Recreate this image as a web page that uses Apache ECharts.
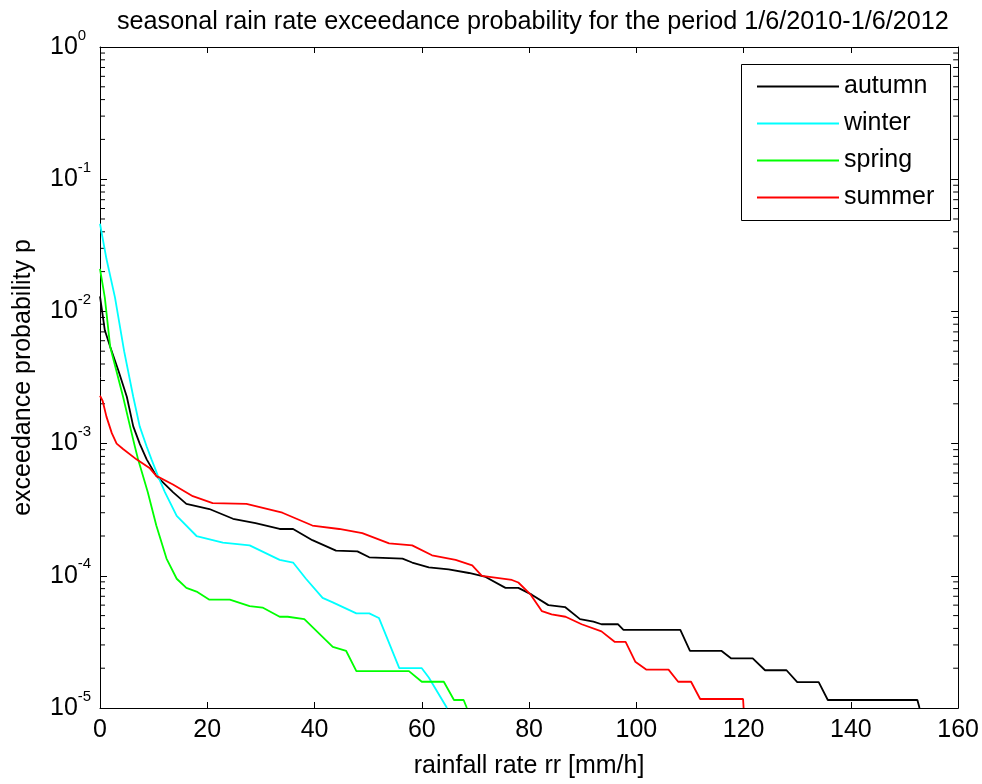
<!DOCTYPE html>
<html>
<head>
<meta charset="utf-8">
<script src="https://cdn.jsdelivr.net/npm/echarts@6/dist/echarts.min.js"></script>
<style>
html,body{margin:0;padding:0;background:#fff;}
#chart{width:982px;height:784px;}
</style>
</head>
<body>
<div id="chart"></div>
<script>
const seriesNames = ['autumn', 'winter', 'spring', 'summer'];
const seriesColors = ['#000000', '#00ffff', '#00ff00', '#ff0000'];

const xAutumn = [0, 0.9, 1.9, 3.5, 5.0, 6.2, 7.4, 8.7, 10.5, 13.6, 16.1, 20.4, 24.8, 29, 33.5, 36, 39.6, 44, 48, 50.2, 56.4, 58.2, 61.3, 65, 68.8, 71.9, 75.6, 78, 80.5, 83.6, 86.7, 89.5, 92, 93.5, 96.6, 97.6, 108.2, 110, 115.9, 117.7, 121.7, 124, 128, 130, 134, 135.7, 152.4, 152.8];
const pAutumn = [1.3e-2, 7.2e-3, 5.4e-3, 3.5e-3, 2.26e-3, 1.35e-3, 1.0e-3, 7.6e-4, 5.7e-4, 4.3e-4, 3.5e-4, 3.2e-4, 2.7e-4, 2.5e-4, 2.26e-4, 2.26e-4, 1.86e-4, 1.55e-4, 1.53e-4, 1.38e-4, 1.35e-4, 1.26e-4, 1.16e-4, 1.12e-4, 1.05e-4, 9.8e-5, 8.1e-5, 8.1e-5, 7.2e-5, 6.0e-5, 5.8e-5, 4.7e-5, 4.5e-5, 4.3e-5, 4.3e-5, 3.9e-5, 3.9e-5, 2.7e-5, 2.7e-5, 2.37e-5, 2.37e-5, 1.93e-5, 1.93e-5, 1.57e-5, 1.57e-5, 1.15e-5, 1.15e-5, 1.0e-5];

const xWinter = [0, 1.2, 2.8, 4.5, 6.2, 7.4, 8.7, 9.6, 10.8, 12.1, 14.3, 18, 22.9, 27.9, 33.5, 36, 38.4, 41.5, 43.4, 47.8, 50.2, 52, 55.8, 60, 61.3, 64.7];
const pWinter = [4.6e-2, 2.5e-2, 1.27e-2, 5.0e-3, 2.26e-3, 1.35e-3, 9.5e-4, 7.6e-4, 5.7e-4, 4.3e-4, 2.84e-4, 2.0e-4, 1.78e-4, 1.7e-4, 1.32e-4, 1.26e-4, 9.5e-5, 6.8e-5, 6.3e-5, 5.2e-5, 5.2e-5, 4.8e-5, 2.0e-5, 2.0e-5, 1.7e-5, 1.0e-5];

const xSpring = [0, 0.9, 1.9, 4.3, 5.6, 6.5, 7.1, 8.9, 10.5, 12.4, 14.3, 16.1, 18, 20.4, 24.2, 27.9, 30.3, 33.5, 35, 38.1, 43.4, 45.9, 47.8, 57.6, 60, 64.1, 66, 67.8, 68.4];
const pSpring = [2.1e-2, 1.27e-2, 5.4e-3, 2.26e-3, 1.35e-3, 9.5e-4, 7.6e-4, 4.3e-4, 2.4e-4, 1.35e-4, 9.5e-5, 8.1e-5, 7.6e-5, 6.6e-5, 6.6e-5, 5.9e-5, 5.75e-5, 4.9e-5, 4.9e-5, 4.7e-5, 2.9e-5, 2.7e-5, 1.9e-5, 1.9e-5, 1.58e-5, 1.58e-5, 1.15e-5, 1.15e-5, 1.0e-5];

const xSummer = [0, 0.5, 1.2, 2.2, 3.1, 4.3, 6.8, 9.3, 10.5, 13.6, 17.3, 21, 27.3, 34, 39.6, 44.6, 48.9, 53.9, 58.2, 61.9, 66.3, 69.4, 71.2, 76.8, 78, 80.3, 82.4, 84.2, 86.8, 89.8, 93.5, 96, 98, 99.8, 101.9, 106, 107.8, 110.2, 111.9, 119.9, 120];
const pSummer = [2.3e-3, 2.1e-3, 1.6e-3, 1.2e-3, 1.0e-3, 9.1e-4, 7.6e-4, 6.5e-4, 5.7e-4, 4.9e-4, 4.0e-4, 3.55e-4, 3.5e-4, 3.0e-4, 2.4e-4, 2.26e-4, 2.1e-4, 1.76e-4, 1.7e-4, 1.43e-4, 1.32e-4, 1.2e-4, 1.0e-4, 9.3e-5, 8.9e-5, 7.2e-5, 5.4e-5, 5.1e-5, 4.9e-5, 4.3e-5, 3.8e-5, 3.16e-5, 3.16e-5, 2.24e-5, 1.95e-5, 1.95e-5, 1.58e-5, 1.58e-5, 1.17e-5, 1.17e-5, 1.0e-5];

const xTicks = [0, 20, 40, 60, 80, 100, 120, 140, 160];
const yTickExponents = [-5, -4, -3, -2, -1, 0];
const yMinorTicks = [
  2e-5, 3e-5, 4e-5, 5e-5, 6e-5, 7e-5, 8e-5, 9e-5,
  2e-4, 3e-4, 4e-4, 5e-4, 6e-4, 7e-4, 8e-4, 9e-4,
  2e-3, 3e-3, 4e-3, 5e-3, 6e-3, 7e-3, 8e-3, 9e-3,
  2e-2, 3e-2, 4e-2, 5e-2, 6e-2, 7e-2, 8e-2, 9e-2,
  2e-1, 3e-1, 4e-1, 5e-1, 6e-1, 7e-1, 8e-1, 9e-1
];

const FONT = '"Liberation Sans", Arial, sans-serif';
const FS = 25;

function zip(xs, ys) { return xs.map((x, i) => [x, ys[i]]); }
const seriesData = [zip(xAutumn, pAutumn), zip(xWinter, pWinter), zip(xSpring, pSpring), zip(xSummer, pSummer)];

const chart = echarts.init(document.getElementById('chart'), null, {renderer: 'canvas'});

const axisLineStyle = {color: '#000', width: 1};

const option = {
  backgroundColor: '#fff',
  animation: false,
  title: {
    text: 'seasonal rain rate exceedance probability for the period 1/6/2010-1/6/2012',
    left: 112, top: 5,
    textStyle: {fontFamily: FONT, fontSize: 25.2, fontWeight: 'normal', color: '#000'}
  },
  grid: {left: 100, top: 47, right: 21, bottom: 70, containLabel: false},
  legend: {
    data: seriesNames,
    orient: 'vertical',
    left: 752, top: 69,
    itemWidth: 82, itemHeight: 2,
    itemGap: 12,
    icon: 'rect',
    textStyle: {fontFamily: FONT, fontSize: FS, color: '#000', lineHeight: 25}
  },
  graphic: [{
    type: 'rect', left: 739, top: 62, z: 100,
    shape: {width: 209, height: 156},
    style: {fill: 'none', stroke: '#000', lineWidth: 1}
  }],
  xAxis: [{
    type: 'value', min: xTicks[0], max: xTicks[xTicks.length - 1], interval: 20,
    name: 'rainfall rate rr [mm/h]', nameLocation: 'middle', nameGap: 46,
    nameTextStyle: {fontFamily: FONT, fontSize: FS, color: '#000'},
    axisLine: {show: true, lineStyle: axisLineStyle},
    axisTick: {show: true, inside: true, length: 6, lineStyle: axisLineStyle},
    axisLabel: {fontFamily: FONT, fontSize: FS, color: '#000', margin: 10},
    splitLine: {show: false}
  }, {
    type: 'value', position: 'top', min: xTicks[0], max: xTicks[xTicks.length - 1], interval: 20,
    axisLine: {show: true, onZero: false, lineStyle: axisLineStyle},
    axisTick: {show: true, inside: true, length: 6, lineStyle: axisLineStyle},
    axisLabel: {show: false},
    splitLine: {show: false}
  }],
  yAxis: [{
    type: 'log', logBase: 10, min: Math.pow(10, yTickExponents[0]), max: Math.pow(10, yTickExponents[yTickExponents.length - 1]),
    splitNumber: 5,
    name: 'exceedance probability p', nameLocation: 'middle', nameGap: 64, nameRotate: 90,
    nameTextStyle: {fontFamily: FONT, fontSize: FS, color: '#000'},
    axisLine: {show: true, onZero: false, lineStyle: axisLineStyle},
    axisTick: {show: true, inside: true, length: 7, lineStyle: axisLineStyle},
    axisLabel: {
      margin: 50, align: 'left',
      formatter: function (v) {
        const e = Math.round(Math.log10(v));
        return '{b|10}{s|' + e + '}';
      },
      rich: {
        b: {fontFamily: FONT, fontSize: FS, color: '#000', lineHeight: 44, verticalAlign: 'middle'},
        s: {fontFamily: FONT, fontSize: 15, color: '#000', lineHeight: 15, verticalAlign: 'top', padding: [3, 0, 0, 0]}
      }
    },
    splitLine: {show: false}
  }, {
    type: 'log', logBase: 10, position: 'right', min: Math.pow(10, yTickExponents[0]), max: Math.pow(10, yTickExponents[yTickExponents.length - 1]),
    splitNumber: 5,
    axisLine: {show: true, onZero: false, lineStyle: axisLineStyle},
    axisTick: {show: true, inside: true, length: 7, lineStyle: axisLineStyle},
    axisLabel: {show: false},
    splitLine: {show: false}
  }],
  series: seriesNames.map((n, i) => ({
    name: n, type: 'line', data: seriesData[i],
    xAxisIndex: 0, yAxisIndex: 0,
    showSymbol: false, symbol: 'none',
    lineStyle: {color: seriesColors[i], width: 1.8},
    itemStyle: {color: seriesColors[i]},
    clip: true
  })).concat([{
    type: 'custom', name: 'minorTicks', silent: true, xAxisIndex: 0, yAxisIndex: 0,
    data: yMinorTicks.map(v => [0, v]),
    clip: false,
    renderItem: function (params, api) {
      const v = api.value(1);
      const pL = api.coord([xTicks[0], v]);
      const pR = api.coord([xTicks[xTicks.length - 1], v]);
      const st = {stroke: '#000', lineWidth: 1};
      return {
        type: 'group',
        children: [
          {type: 'line', shape: {x1: pL[0], y1: pL[1], x2: pL[0] + 5, y2: pL[1]}, style: st},
          {type: 'line', shape: {x1: pR[0] - 5, y1: pR[1], x2: pR[0], y2: pR[1]}, style: st}
        ]
      };
    }
  }])
};
chart.setOption(option);
</script>
</body>
</html>
